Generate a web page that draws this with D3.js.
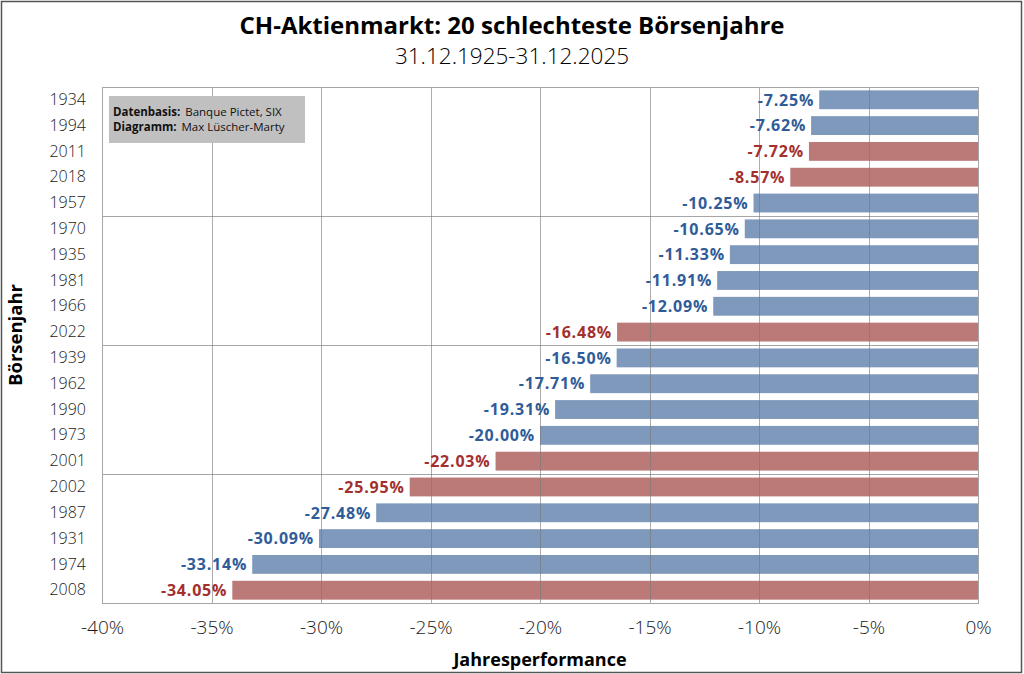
<!DOCTYPE html>
<html>
<head>
<meta charset="utf-8">
<script src="https://d3js.org/d3.v7.min.js"></script>
<style>
    body { margin: 0; background: #fff; }
    svg { font-family: "Open Sans", "Noto Sans", sans-serif; }
    .tick text { fill: #1a1a1a; }
</style>
</head>
<body>
<div id="chart"></div>
<script>
    // data (worst first from top)
    var years = ["1934", "1994", "2011", "2018", "1957", "1970", "1935", "1981", "1966", "2022",
                 "1939", "1962", "1990", "1973", "2001", "2002", "1987", "1931", "1974", "2008"];
    var performance = [-7.25, -7.62, -7.72, -8.57, -10.25, -10.65, -11.33, -11.91, -12.09, -16.48,
                       -16.50, -17.71, -19.31, -20.00, -22.03, -25.95, -27.48, -30.09, -33.14, -34.05];
    var xTicks = [-40, -35, -30, -25, -20, -15, -10, -5, 0];
    var groupBreaks = ["1970", "1939", "2002"];

    var width = 1024, height = 674;
    var margin = { top: 87, right: 46, bottom: 71, left: 102 };

    var svg = d3.select("#chart").append("svg")
        .attr("width", width)
        .attr("height", height);

    // outer frame
    svg.append("rect")
        .attr("x", 1.5).attr("y", 1.5)
        .attr("width", width - 4).attr("height", height - 3)
        .attr("fill", "#fff")
        .attr("stroke", "#555")
        .attr("stroke-width", 1.5);

    var x = d3.scaleLinear().domain([-40, 0]).range([margin.left, width - margin.right]);
    var y = d3.scaleBand().domain(years).range([margin.top, height - margin.bottom]).paddingInner(0.27).paddingOuter(0.13);

    var isRecent = function(d) { return +d >= 2000; };

    // horizontal group separators
    var step = y.step();
    svg.append("g").selectAll("line")
        .data(groupBreaks)
        .enter().append("line")
        .attr("x1", x(-40)).attr("x2", x(0))
        .attr("y1", function(d) { return Math.round(y(d) - step * y.paddingInner() / 2) + 0.5; })
        .attr("y2", function(d) { return Math.round(y(d) - step * y.paddingInner() / 2) + 0.5; })
        .attr("stroke", "#a6a6a6")
        .attr("stroke-width", 1);

    // bars
    svg.append("g").selectAll("rect")
        .data(years)
        .enter().append("rect")
        .attr("x", function(d, i) { return x(performance[i]); })
        .attr("y", function(d) { return y(d); })
        .attr("width", function(d, i) { return x(0) - x(performance[i]); })
        .attr("height", y.bandwidth())
        .attr("fill", function(d) { return isRecent(d) ? "#bb7a78" : "#7e99bc"; });

    // vertical gridlines over bars
    svg.append("g").selectAll("line")
        .data(xTicks.slice(1, -1))
        .enter().append("line")
        .attr("x1", function(d) { return Math.round(x(d)) + 0.5; })
        .attr("x2", function(d) { return Math.round(x(d)) + 0.5; })
        .attr("y1", margin.top).attr("y2", height - margin.bottom)
        .attr("stroke", "#777")
        .attr("stroke-opacity", 0.6)
        .attr("stroke-width", 1);

    // plot frame
    svg.append("rect")
        .attr("x", x(-40) + 0.5).attr("y", margin.top + 0.5)
        .attr("width", x(0) - x(-40)).attr("height", height - margin.bottom - margin.top)
        .attr("fill", "none")
        .attr("stroke", "#a6a6a6");

    // value labels
    svg.append("g").selectAll("text")
        .data(years)
        .enter().append("text")
        .attr("x", function(d, i) { return x(performance[i]) - 5; })
        .attr("y", function(d) { return y(d) + y.bandwidth() / 2; })
        .attr("dy", "0.36em")
        .attr("text-anchor", "end")
        .attr("font-size", 16)
        .attr("font-weight", "bold")
        .attr("letter-spacing", 0.8)
        .attr("fill", function(d) { return isRecent(d) ? "#a3302e" : "#2f5c99"; })
        .text(function(d, i) { return performance[i].toFixed(2) + "%"; });

    // axes
    var yAxis = svg.append("g")
        .attr("transform", "translate(" + (margin.left - 16) + ",0)")
        .call(d3.axisLeft(y).tickSize(0).tickPadding(0));
    yAxis.select(".domain").remove();
    yAxis.selectAll("text").attr("font-size", 16).attr("font-weight", 300)
        .attr("font-family", "'Open Sans', sans-serif");

    var xAxis = svg.append("g")
        .attr("transform", "translate(0," + (height - margin.bottom) + ")")
        .call(d3.axisBottom(x).tickValues(xTicks).tickSize(0).tickPadding(18)
            .tickFormat(function(d) { return d + "%"; }));
    xAxis.select(".domain").remove();
    xAxis.selectAll("text").attr("font-size", 19).attr("font-weight", 300)
        .attr("font-family", "'Open Sans', sans-serif");

    // axis titles
    svg.append("text")
        .attr("x", (x(-40) + x(0)) / 2)
        .attr("y", 666)
        .attr("text-anchor", "middle")
        .attr("font-size", 18)
        .attr("font-weight", "bold")
        .text("Jahresperformance");

    svg.append("text")
        .attr("transform", "translate(22,335) rotate(-90)")
        .attr("text-anchor", "middle")
        .attr("font-size", 18.5)
        .attr("font-weight", "bold")
        .text("Börsenjahr");

    // title
    svg.append("text")
        .attr("x", 512).attr("y", 34)
        .attr("text-anchor", "middle")
        .attr("font-size", 24)
        .attr("font-weight", "bold")
        .text("CH-Aktienmarkt: 20 schlechteste Börsenjahre");
    svg.append("text")
        .attr("x", 512).attr("y", 64)
        .attr("text-anchor", "middle")
        .attr("font-size", 22.5)
        .attr("font-weight", 300)
        .text("31.12.1925-31.12.2025");

    // source box
    var note = svg.append("g").attr("transform", "translate(109,96)");
    note.append("rect")
        .attr("width", 196).attr("height", 47)
        .attr("fill", "#c0c0c0");
    var lines = [["Datenbasis:", "Banque Pictet, SIX"], ["Diagramm:", "Max Lüscher-Marty"]];
    lines.forEach(function(l, i) {
        var t = note.append("text")
            .attr("x", 4).attr("y", 20 + i * 15)
            .attr("font-size", 11.5)
            .attr("fill", "#111");
        t.append("tspan").attr("font-weight", "bold").text(l[0]);
        t.append("tspan").attr("dx", 5).text(l[1]);
    });
</script>
</body>
</html>
